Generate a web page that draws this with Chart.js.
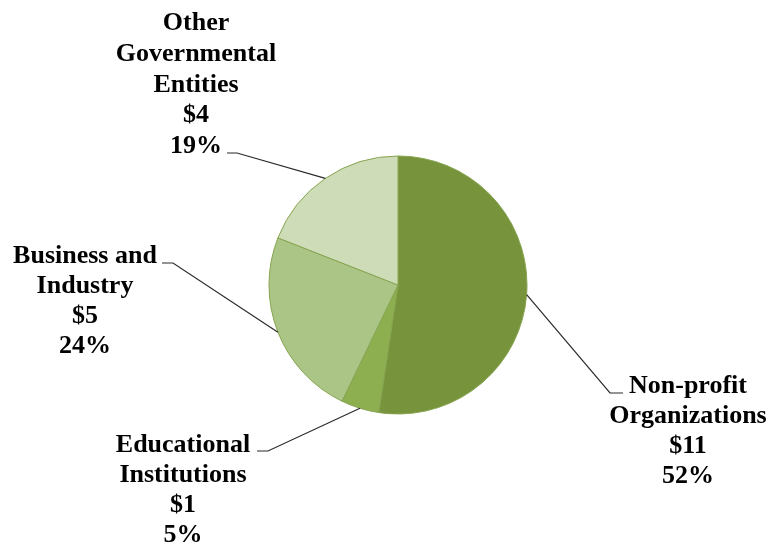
<!DOCTYPE html>
<html>
<head>
<meta charset="utf-8">
<script src="https://cdn.jsdelivr.net/npm/chart.js@4/dist/chart.umd.min.js"></script>
<style>
html,body{margin:0;padding:0;background:#fff;}
#wrap{width:770px;height:546px;position:relative;}
</style>
</head>
<body>
<div id="wrap"><canvas id="c"></canvas></div>
<script>
const categories = ["Non-profit Organizations", "Educational Institutions", "Business and Industry", "Other Governmental Entities"];
const labelLines = [["Non-profit", "Organizations"], ["Educational", "Institutions"], ["Business and", "Industry"], ["Other", "Governmental", "Entities"]];
const values = [11, 1, 5, 4];
const dollarLabels = ["$11", "$1", "$5", "$4"];
const percentLabels = ["52%", "5%", "24%", "19%"];
const colors = ["#77933C", "#8EAF50", "#ABC586", "#CFDCB8"];

// label layout: text centre x, first baseline y, line height, leader-line elbow
const labelLayout = [
  {cx: 688, y0: 393, lh: 30, lx1: 623, lx2: 610, ly: 393},
  {cx: 183, y0: 452, lh: 30, lx1: 257, lx2: 268, ly: 451},
  {cx: 85,  y0: 263, lh: 30, lx1: 162, lx2: 173, ly: 263},
  {cx: 196, y0: 30,  lh: 30.8, lx1: 227, lx2: 237, ly: 153}
];

const labelPlugin = {
  id: 'pieLabels',
  afterDatasetsDraw(chart) {
    const ctx = chart.ctx;
    const meta = chart.getDatasetMeta(0);
    ctx.save();
    meta.data.forEach((arc, i) => {
      const p = arc.getProps(['x','y','startAngle','endAngle','outerRadius'], true);
      const mid = (p.startAngle + p.endAngle) / 2;
      const ax = p.x + Math.cos(mid) * p.outerRadius;
      const ay = p.y + Math.sin(mid) * p.outerRadius;
      const L = labelLayout[i];
      ctx.strokeStyle = '#2a2a2a';
      ctx.lineWidth = 1.2;
      ctx.beginPath();
      ctx.moveTo(L.lx1, L.ly);
      ctx.lineTo(L.lx2, L.ly);
      ctx.lineTo(ax, ay);
      ctx.stroke();
      const lines = labelLines[i].concat([dollarLabels[i], percentLabels[i]]);
      ctx.fillStyle = '#000';
      ctx.font = 'bold 26px "Liberation Serif", "Times New Roman", serif';
      ctx.textAlign = 'center';
      ctx.textBaseline = 'alphabetic';
      lines.forEach((t, k) => ctx.fillText(t, L.cx, L.y0 + k * L.lh));
    });
    ctx.restore();
  }
};

new Chart(document.getElementById('c'), {
  type: 'pie',
  data: {
    labels: categories,
    datasets: [{
      data: values,
      backgroundColor: colors,
      borderColor: '#86A450',
      borderWidth: 1
    }]
  },
  options: {
    responsive: true,
    maintainAspectRatio: false,
    animation: false,
    radius: 129,
    layout: {padding: {left: 198, right: 172, top: 156, bottom: 132}},
    plugins: {legend: {display: false}, tooltip: {enabled: false}}
  },
  plugins: [labelPlugin]
});
</script>
</body>
</html>
